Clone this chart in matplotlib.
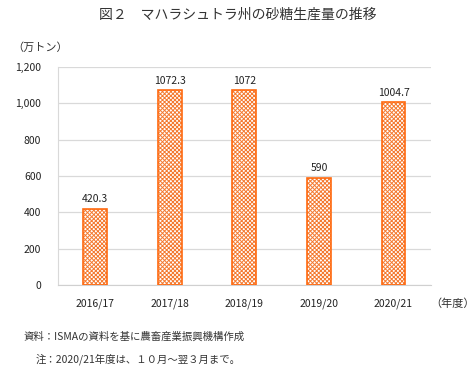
import matplotlib
matplotlib.use("Agg")
import matplotlib.pyplot as plt
import numpy as np

plt.rcParams['font.family'] = ['Noto Sans CJK JP', 'DejaVu Sans']
plt.rcParams['hatch.linewidth'] = 0.7

categories = ["2016/17", "2017/18", "2018/19", "2019/20", "2020/21"]
values = [420.3, 1072.3, 1072, 590, 1004.7]
value_labels = ["420.3", "1072.3", "1072", "590", "1004.7"]
yticks = [0, 200, 400, 600, 800, 1000, 1200]
ytick_labels = ["0", "200", "400", "600", "800", "1,000", "1,200"]

fig = plt.figure(figsize=(4.75, 3.8), dpi=100)
ax = fig.add_axes([0.122, 0.25, 0.785, 0.574])
x = np.arange(len(categories))
ax.bar(x, values, width=0.32, color='white', edgecolor='#f47a30', hatch='xxxxxxxx', linewidth=0, zorder=2)
ax.bar(x, values, width=0.32, fill=False, edgecolor='#ff6a10', linewidth=1.2, zorder=3)
for xi, v, lab in zip(x, values, value_labels):
    ax.text(xi, v + 25, lab, ha='center', va='bottom', fontsize=7.5, color='#222222')

ax.set_xlim(-0.5, len(categories) - 0.5)
ax.set_ylim(0, 1200)
ax.set_yticks(yticks)
ax.set_yticklabels(ytick_labels)
ax.set_xticks(x)
ax.set_xticklabels(categories)
ax.tick_params(axis='both', length=0, labelsize=7.5, colors='#222222')
ax.tick_params(axis='x', pad=10)
ax.tick_params(axis='y', pad=12)
ax.grid(axis='y', color='#d9d9d9', linewidth=0.9, zorder=0)
ax.set_axisbelow(True)
for s in ['right', 'top']:
    ax.spines[s].set_visible(False)
ax.spines['bottom'].set_color('#d0d0d0')
ax.spines['left'].set_color('#d9d9d9')

fig.text(0.5, 0.96, "図２　マハラシュトラ州の砂糖生産量の推移", ha='center', va='center', fontsize=10, color='#333333')
fig.text(0.025, 0.875, "（万トン）", ha='left', va='center', fontsize=8, color='#333333')
fig.text(0.905, 0.2, "（年度）", ha='left', va='center', fontsize=8, color='#333333')
fig.text(0.05, 0.115, "資料：ISMAの資料を基に農畜産業振興機構作成", ha='left', va='center', fontsize=7.5, color='#333333')
fig.text(0.075, 0.055, "注：2020/21年度は、１０月～翌３月まで。", ha='left', va='center', fontsize=7.5, color='#333333')

fig.savefig("out.png", dpi=100)
